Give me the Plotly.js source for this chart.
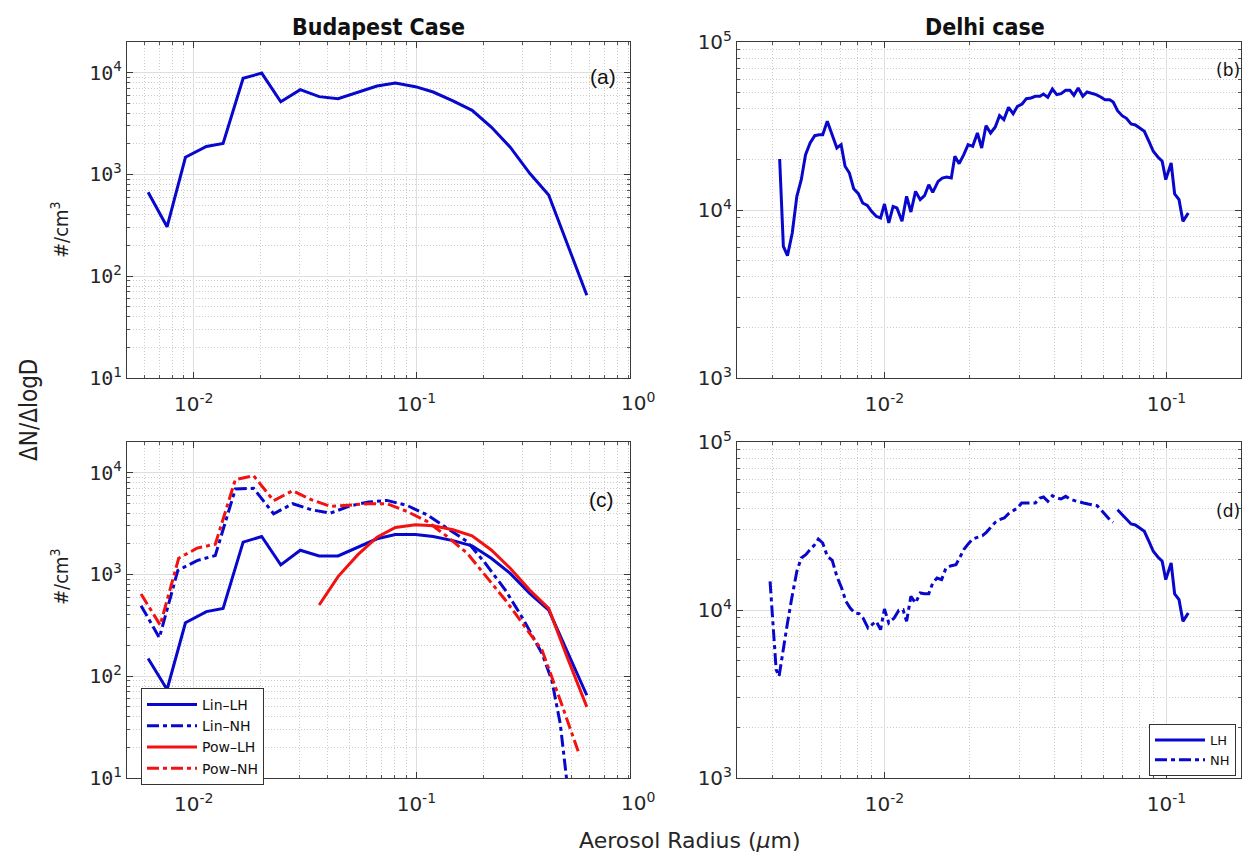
<!DOCTYPE html>
<html><head><meta charset="utf-8">
<script src="https://cdn.plot.ly/plotly-3.0.1.min.js"></script>
<style>html,body{margin:0;padding:0;background:#fff;} #chart{width:1242px;height:853px;}</style>
</head><body><div id="chart"></div>
<script>
// ---------- Budapest (a) and (c) ----------
const budapestRadius = [0.00624, 0.00759, 0.00918, 0.0114, 0.01355, 0.01667, 0.0202, 0.0246, 0.0301, 0.0366, 0.0445, 0.0545, 0.0666, 0.0805, 0.099, 0.119, 0.146, 0.178, 0.217, 0.264, 0.323, 0.393, 0.475, 0.583];
const budapestTotal = [667, 306, 1475, 1880, 2015, 8800, 9900, 5180, 6810, 5810, 5550, 6400, 7390, 7910, 7280, 6450, 5290, 4260, 2920, 1855, 1025, 628, 210, 65];
const linLH = [149, 74, 335, 431, 464, 2075, 2360, 1240, 1730, 1520, 1520, 1855, 2240, 2470, 2470, 2360, 2150, 1910, 1443, 1025, 652, 447, 174, 65];
const linNHRadius = [0.0058, 0.00701, 0.00848, 0.01035, 0.0125, 0.01538, 0.01858, 0.02285, 0.02784, 0.03375, 0.0411, 0.0506, 0.0611, 0.0738, 0.0908, 0.1116, 0.1374, 0.169, 0.204, 0.251, 0.3035, 0.367, 0.406, 0.443, 0.478];
const linNH = [493, 239, 1092, 1368, 1535, 6900, 7010, 3945, 4950, 4320, 4005, 4730, 5145, 5335, 4760, 3855, 2850, 2105, 1288, 703, 357, 167, 91, 34, 8];
const powLHRadius = [0.0366, 0.0445, 0.0545, 0.0666, 0.0805, 0.099, 0.119, 0.146, 0.178, 0.217, 0.264, 0.323, 0.393, 0.475, 0.583];
const powLH = [501, 953, 1556, 2323, 2890, 3073, 3010, 2743, 2392, 1741, 1150, 703, 464, 155, 50];
const powNHRadius = [0.0058, 0.00707, 0.00856, 0.01035, 0.0125, 0.01538, 0.01858, 0.02285, 0.02784, 0.03375, 0.0411, 0.0506, 0.0611, 0.0738, 0.0908, 0.1116, 0.1374, 0.169, 0.204, 0.251, 0.3035, 0.367, 0.443, 0.541];
const powNH = [643, 318, 1442, 1812, 1983, 8530, 9340, 5300, 6650, 5420, 4660, 4770, 4950, 4950, 4160, 3320, 2360, 1620, 988, 561, 318, 180, 58, 16.7];

// ---------- Delhi (b) ----------
const delhiRadius = [0.00425, 0.00438, 0.00453, 0.00471, 0.00489, 0.00507, 0.00525, 0.00545, 0.00566, 0.00586,
  0.00604, 0.00627, 0.00649, 0.00678, 0.00702, 0.00725, 0.00751, 0.00778, 0.00808, 0.00837,
  0.00869, 0.0090, 0.00935, 0.00969, 0.0100, 0.01036, 0.01073, 0.01107, 0.01154, 0.01198,
  0.01241, 0.01289, 0.01339, 0.01387, 0.01436, 0.01483, 0.0155, 0.01604, 0.01662, 0.01726,
  0.01777, 0.0184, 0.01911, 0.0198, 0.02056, 0.02136, 0.02212, 0.02291, 0.02379, 0.02471,
  0.02559, 0.02651, 0.02754, 0.0286, 0.02962, 0.03076, 0.03186, 0.03308, 0.03427, 0.03559,
  0.03664, 0.03795, 0.0394, 0.04083, 0.04228, 0.04391, 0.04548, 0.04696, 0.04864, 0.05051,
  0.0523, 0.05433, 0.05627, 0.05845, 0.06053, 0.06288, 0.06474, 0.06706, 0.06963, 0.07211,
  0.0749, 0.07757, 0.08058, 0.08346, 0.08667, 0.08979, 0.09324, 0.09656, 0.09943, 0.1039,
  0.1069, 0.1108, 0.1144, 0.1195];
const delhiTotal = [20100, 6080, 5350, 7300, 12060, 15160, 21330, 25060, 27700, 28050,
  28050, 33740, 28700, 23390, 24490, 18200, 16600, 13390, 12510, 11010,
  10660, 9820, 9170, 8960, 10860, 8370, 10500, 10280, 8560, 12060,
  9730, 12910, 11520, 12170, 14150, 12740, 14810, 15500, 15710, 15500,
  20870, 18870, 21350, 24480, 23930, 28720, 23390, 31770, 28720, 31190,
  36440, 34500, 40830, 37450, 41400, 42750, 45990, 46420, 47490, 47490,
  49030, 46840, 52510, 48580, 49260, 51560, 51560, 48130, 53240, 47490,
  50400, 49710, 48580, 47060, 45360, 45360, 43950, 39020, 36440, 35130,
  32500, 32060, 30770, 29400, 25630, 22350, 20680, 19490, 15160, 19050,
  12450, 11520, 8560, 9600];

// ---------- Delhi (d) ----------
const delhiNHRadius = [0.00393, 0.00405, 0.00413, 0.00423, 0.00435, 0.00451, 0.00468, 0.00489, 0.00507, 0.00526,
  0.00545, 0.00566, 0.00583, 0.00604, 0.00627, 0.00653, 0.00678, 0.00705, 0.0073, 0.00756,
  0.00785, 0.00813, 0.0084, 0.00874, 0.00903, 0.00935, 0.00969, 0.0100, 0.01036, 0.01082,
  0.01124, 0.01164, 0.01198, 0.01241, 0.01289, 0.01339, 0.01387, 0.01436, 0.01483, 0.01536,
  0.01595, 0.01652, 0.01726, 0.01793, 0.01846, 0.01911, 0.01985, 0.02056, 0.02136, 0.02225,
  0.02297, 0.02379, 0.02471, 0.02559, 0.02659, 0.02754, 0.0286, 0.02962, 0.03066, 0.03186,
  0.03308, 0.03427, 0.03559, 0.03664, 0.03795, 0.0394, 0.04083, 0.04228, 0.04391, 0.04548,
  0.04725, 0.04893, 0.05082, 0.05277, 0.05466, 0.05677, 0.05879, 0.06106, 0.06324, 0.06474];
const delhiNH = [14810, 6660, 4415, 4030, 5300, 7990, 11520, 16990, 20390, 21350,
  22870, 24480, 26470, 25050, 20870, 19750, 15860, 13520, 11260, 10280,
  9600, 9510, 8960, 7815, 8180, 8560, 7640, 10140, 8370, 8960,
  9950, 10050, 8560, 12060, 11010, 12630, 12510, 12510, 14480, 15500,
  15160, 17780, 18360, 18620, 20390, 22870, 24820, 26470, 27070, 27700,
  29000, 31190, 33250, 34500, 35290, 37450, 39020, 40460, 43350, 43350,
  43750, 43350, 46420, 47060, 44370, 47920, 46420, 45780, 47490, 45780,
  44770, 43950, 43350, 42750, 42170, 41780, 39200, 36440, 34170, 33250];
const delhiLHRadius = [0.06706, 0.06963, 0.07211, 0.0749, 0.07757, 0.08058, 0.08346, 0.08667, 0.08979, 0.09324, 0.09656, 0.09943, 0.1039, 0.1069, 0.1108, 0.1144, 0.1195];
const delhiLH = [39560, 36940, 34500, 32500, 32060, 30770, 29400, 25630, 22350, 20680, 19490, 15160, 19050, 12450, 11520, 8560, 9600];

// ---------- tick labels ----------
const xTickVals = [0.01, 0.1];
const xTickText = ['10<sup>-2</sup>', '10<sup>-1</sup>'];
const yLeftTickVals = [10, 100, 1000, 10000];
const yLeftTickText = ['10<sup>1</sup>', '10<sup>2</sup>', '10<sup>3</sup>', '10<sup>4</sup>'];
const yRightTickVals = [1000, 10000, 100000];
const yRightTickText = ['10<sup>3</sup>', '10<sup>4</sup>', '10<sup>5</sup>'];

// ---------- helpers ----------
const W = 1242, H = 853;
const px = v => v / W;
const py = v => 1 - v / H;
function minorVals(d0, d1) {
  const out = [];
  for (let d = d0; d <= d1; d++) for (let k = 2; k <= 9; k++) out.push(k * Math.pow(10, d));
  return out;
}
const BLUE = '#0808cc', RED = '#f21212';
const DASHDOT = '12px,4px,4px,4px';
const AX = '#3a3a3a';

function axis(o, minors, font) {
  return Object.assign({
    type: 'log', showline: true, linecolor: AX, linewidth: 1, mirror: 'ticks',
    ticks: 'inside', ticklen: 6, tickcolor: AX, tickwidth: 1,
    showgrid: true, gridcolor: '#dedede', gridwidth: 1, zeroline: false,
    tickmode: 'array', fixedrange: true,
    tickfont: font,
    minor: { tickmode: 'array', tickvals: minors, ticks: 'inside', ticklen: 3, tickcolor: '#555',
             showgrid: true, gridcolor: '#cccccc', griddash: '1px,2px', gridwidth: 1 }
  }, o);
}
const xFont = { family: 'DejaVu Sans, sans-serif', size: 20, color: '#262626' };
const yLeftFont = { family: 'DejaVu Sans Mono, monospace', size: 20, color: '#262626' };
const yRightFont = { family: 'DejaVu Sans, sans-serif', size: 20, color: '#262626' };

const leftXDom = [px(126.7), px(630)];
const leftXRange = [Math.log10(0.005), -0.0404];
const rightXDom = [px(737), px(1241)];
const rightXRange = [Math.log10(0.003), -0.7357];
const topYDom = [py(378), py(42)];
const botYDom = [py(778), py(442)];
const leftYRange = [1, Math.log10(20000)];
const rightYRange = [3, 5];

const xMinLeft = minorVals(-3, -1).filter(v => v > 0.0055);
const xMinRight = minorVals(-3, -1).filter(v => v > 0.0035 && v < 0.19);
const yMinLeft = minorVals(1, 4).filter(v => v < 21000);
const yMinRight = minorVals(3, 4);

const traces = [
  { x: budapestRadius, y: budapestTotal, xaxis: 'x', yaxis: 'y', mode: 'lines',
    line: { color: BLUE, width: 3 }, showlegend: false },
  { x: delhiRadius, y: delhiTotal, xaxis: 'x2', yaxis: 'y2', mode: 'lines',
    line: { color: BLUE, width: 3 }, showlegend: false },
  { x: budapestRadius, y: linLH, xaxis: 'x3', yaxis: 'y3', mode: 'lines', name: 'Lin\u2013LH',
    line: { color: BLUE, width: 3 }, legend: 'legend' },
  { x: linNHRadius, y: linNH, xaxis: 'x3', yaxis: 'y3', mode: 'lines', name: 'Lin\u2013NH',
    line: { color: BLUE, width: 3, dash: DASHDOT }, legend: 'legend' },
  { x: powLHRadius, y: powLH, xaxis: 'x3', yaxis: 'y3', mode: 'lines', name: 'Pow\u2013LH',
    line: { color: RED, width: 3 }, legend: 'legend' },
  { x: powNHRadius, y: powNH, xaxis: 'x3', yaxis: 'y3', mode: 'lines', name: 'Pow\u2013NH',
    line: { color: RED, width: 3, dash: DASHDOT }, legend: 'legend' },
  { x: delhiLHRadius, y: delhiLH, xaxis: 'x4', yaxis: 'y4', mode: 'lines', name: 'LH',
    line: { color: BLUE, width: 3 }, legend: 'legend2' },
  { x: delhiNHRadius, y: delhiNH, xaxis: 'x4', yaxis: 'y4', mode: 'lines', name: 'NH',
    line: { color: BLUE, width: 3, dash: DASHDOT }, legend: 'legend2' }
];

function note(text, x, y, font, extra) {
  return Object.assign({ text: text, x: px(x), y: py(y), xref: 'paper', yref: 'paper', showarrow: false,
    xanchor: 'center', yanchor: 'middle', font: font }, extra || {});
}
const titleFont = { family: 'Liberation Sans Narrow, DejaVu Sans Condensed, sans-serif', size: 23, color: '#111' };
const narrowFont = s => ({ family: 'Liberation Sans Narrow, DejaVu Sans Condensed, sans-serif', size: s, color: '#222' });

const xStd = 8;
const layout = {
  width: W, height: H, margin: { l: 0, r: 0, t: 0, b: 0 },
  paper_bgcolor: '#ffffff', plot_bgcolor: '#ffffff', showlegend: true,
  xaxis:  axis({ domain: leftXDom, range: leftXRange, anchor: 'y', tickvals: xTickVals, ticktext: xTickText, ticklabelstandoff: xStd }, xMinLeft, xFont),
  yaxis:  axis({ domain: topYDom, range: leftYRange, anchor: 'x', tickvals: yLeftTickVals, ticktext: yLeftTickText }, yMinLeft, yLeftFont),
  xaxis2: axis({ domain: rightXDom, range: rightXRange, anchor: 'y2', tickvals: xTickVals, ticktext: xTickText, ticklabelstandoff: xStd }, xMinRight, xFont),
  yaxis2: axis({ domain: topYDom, range: rightYRange, anchor: 'x2', tickvals: yRightTickVals, ticktext: yRightTickText }, yMinRight, yRightFont),
  xaxis3: axis({ domain: leftXDom, range: leftXRange, anchor: 'y3', tickvals: xTickVals, ticktext: xTickText, ticklabelstandoff: xStd }, xMinLeft, xFont),
  yaxis3: axis({ domain: botYDom, range: leftYRange, anchor: 'x3', tickvals: yLeftTickVals, ticktext: yLeftTickText }, yMinLeft, yLeftFont),
  xaxis4: axis({ domain: rightXDom, range: rightXRange, anchor: 'y4', tickvals: xTickVals, ticktext: xTickText, ticklabelstandoff: xStd }, xMinRight, xFont),
  yaxis4: axis({ domain: botYDom, range: rightYRange, anchor: 'x4', tickvals: yRightTickVals, ticktext: yRightTickText }, yMinRight, yRightFont),
  legend: {
    x: px(141), y: py(688), xanchor: 'left', yanchor: 'top',
    bgcolor: '#ffffff', bordercolor: '#333', borderwidth: 1,
    font: { family: 'DejaVu Sans, sans-serif', size: 14, color: '#111' },
    itemwidth: 50, tracegroupgap: 0, traceorder: 'normal'
  },
  legend2: {
    x: px(1149), y: py(724), xanchor: 'left', yanchor: 'top',
    bgcolor: '#ffffff', bordercolor: '#333', borderwidth: 1,
    font: { family: 'DejaVu Sans, sans-serif', size: 13, color: '#111' },
    itemwidth: 50, tracegroupgap: 0, traceorder: 'normal'
  },
  annotations: [
    note('<b>Budapest Case</b>', 378, 27, titleFont),
    note('<b>Delhi case</b>', 985, 27, titleFont),
    note('\u0394N/\u0394logD', 29, 410, narrowFont(24), { textangle: -90 }),
    note('#/cm<sup>3</sup>', 60, 230, narrowFont(20), { textangle: -90 }),
    note('#/cm<sup>3</sup>', 60, 577, narrowFont(20), { textangle: -90 }),
    note('Aerosol Radius (<i>\u03bc</i>m)', 690, 840, { family: 'DejaVu Sans, sans-serif', size: 22, color: '#262626' }),
    note('10<sup>0</sup>', 638, 402, xFont),
    note('10<sup>0</sup>', 638, 802, xFont),
    note('(a)', 603, 76, { family: 'Liberation Sans, Arial, sans-serif', size: 21, color: '#111' }),
    note('(c)', 601, 499, { family: 'Liberation Sans, Arial, sans-serif', size: 21, color: '#111' }),
    note('(b)', 1228, 70, { family: 'DejaVu Sans, sans-serif', size: 17, color: '#111' }),
    note('(d)', 1228, 511, { family: 'DejaVu Sans, sans-serif', size: 17, color: '#111' })
  ]
};

Plotly.newPlot('chart', traces, layout, { staticPlot: true, displayModeBar: false });
</script></body></html>
